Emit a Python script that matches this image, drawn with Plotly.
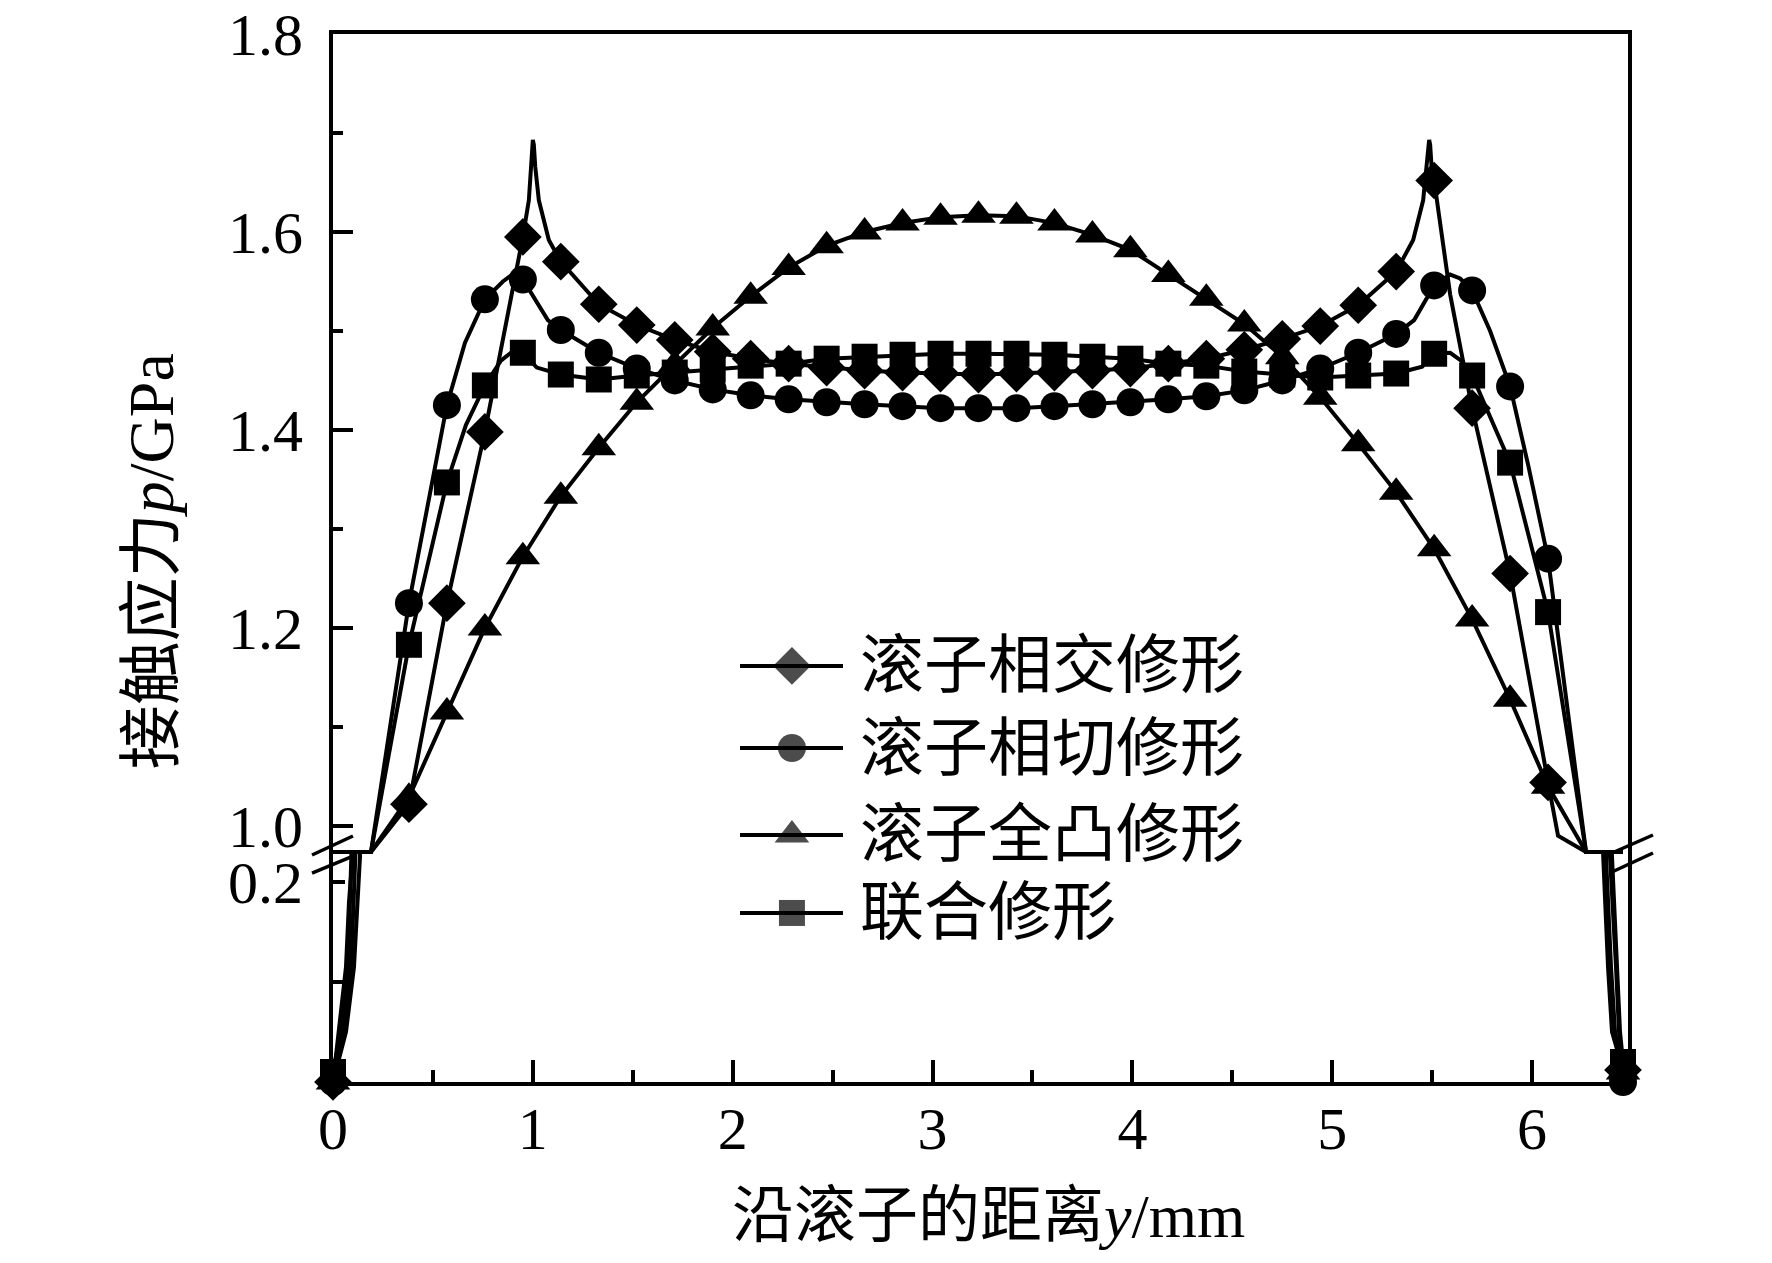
import numpy as np
import plotly.graph_objects as go

# marker positions along the roller (mm), shared by all four curves
GRID_X = [0.0, 0.19, 0.38, 0.57, 0.76, 0.95, 1.14, 1.33, 1.52, 1.71, 1.90,
          2.09, 2.28, 2.47, 2.66, 2.85, 3.04, 3.23, 3.42, 3.61, 3.80, 3.99,
          4.18, 4.37, 4.56, 4.75, 4.94, 5.13, 5.32, 5.51, 5.70, 5.89, 6.08,
          6.27, 6.455]

# contact pressure at the marker positions (GPa)
DIAMOND_Y = [0.0, 0.62, 1.022, 1.225, 1.398, 1.595, 1.570, 1.527, 1.506, 1.491,
             1.479, 1.472, 1.467, 1.463, 1.460, 1.458, 1.457, 1.456, 1.457, 1.458,
             1.460, 1.462, 1.467, 1.472, 1.481, 1.492, 1.505, 1.526, 1.560, 1.652,
             1.422, 1.255, 1.044, 0.62, 0.012]
CIRCLE_Y = [0.0, 0.88, 1.225, 1.425, 1.532, 1.552, 1.501, 1.478, 1.462, 1.450,
            1.441, 1.435, 1.431, 1.428, 1.426, 1.424, 1.422, 1.422, 1.422, 1.424,
            1.426, 1.428, 1.431, 1.434, 1.440, 1.450, 1.462, 1.478, 1.497, 1.546,
            1.541, 1.444, 1.270, 0.94, 0.0]
TRIANGLE_Y = [0.0, 0.942, 1.029, 1.115, 1.200, 1.272, 1.333, 1.382, 1.428, 1.466,
              1.503, 1.535, 1.564, 1.586, 1.600, 1.609, 1.615, 1.617, 1.616, 1.609,
              1.597, 1.582, 1.557, 1.533, 1.507, 1.474, 1.433, 1.386, 1.337, 1.280,
              1.209, 1.128, 1.040, 0.948, 0.01]
SQUARE_Y = [0.01, 0.875, 1.183, 1.347, 1.445, 1.478, 1.456, 1.451, 1.455, 1.458,
            1.461, 1.465, 1.467, 1.472, 1.474, 1.476, 1.477, 1.477, 1.477, 1.476,
            1.474, 1.472, 1.467, 1.465, 1.459, 1.456, 1.453, 1.455, 1.457, 1.477,
            1.455, 1.367, 1.216, 0.943, 0.02]

# extra curve points between markers (roller ends, peaks)
DIAMOND_EX_X = [0.05, 0.09, 0.11, 0.12, 0.98, 0.99, 0.995, 1.0, 1.005, 1.012, 1.03,
                1.08, 5.405, 5.455, 5.47, 5.48, 5.485, 5.49, 5.497, 5.59, 6.13,
                6.355, 6.38, 6.40]
DIAMOND_EX_Y = [0.05, 0.115, 0.18, 0.225, 1.632, 1.666, 1.688, 1.693, 1.688, 1.666,
                1.632, 1.592, 1.592, 1.632, 1.666, 1.688, 1.693, 1.688, 1.666, 1.537,
                0.99, 0.225, 0.115, 0.05]
CIRCLE_EX_X = [0.03, 0.065, 0.08, 0.09, 0.66, 0.85, 0.89, 1.005, 1.075, 5.41, 5.48,
               5.59, 5.64, 5.79, 5.98, 6.39, 6.42, 6.435]
CIRCLE_EX_Y = [0.05, 0.115, 0.18, 0.225, 1.488, 1.550, 1.556, 1.534, 1.511, 1.511,
               1.535, 1.557, 1.553, 1.50, 1.365, 0.225, 0.115, 0.05]
TRIANGLE_EX_X = [0.065, 0.105, 0.125, 0.135, 6.37, 6.395, 6.415]
TRIANGLE_EX_Y = [0.05, 0.115, 0.18, 0.225, 0.225, 0.115, 0.05]
SQUARE_EX_X = [0.04, 0.075, 0.09, 0.10, 0.665, 0.84, 0.89, 1.02, 5.45, 5.59, 5.645,
               6.40, 6.425, 6.44]
SQUARE_EX_Y = [0.05, 0.115, 0.18, 0.225, 1.405, 1.470, 1.478, 1.463, 1.464, 1.478,
               1.470, 0.225, 0.115, 0.05]

NAMES = ["滚子相交修形", "滚子相切修形", "滚子全凸修形", "联合修形"]
SYMBOLS = ["diamond", "circle", "triangle-up", "square"]
SIZES = [29, 28, 30, 26]

SERIES = list(zip(NAMES, SYMBOLS, SIZES,
                  [DIAMOND_Y, CIRCLE_Y, TRIANGLE_Y, SQUARE_Y],
                  [DIAMOND_EX_X, CIRCLE_EX_X, TRIANGLE_EX_X, SQUARE_EX_X],
                  [DIAMOND_EX_Y, CIRCLE_EX_Y, TRIANGLE_EX_Y, SQUARE_EX_Y]))

# broken y axis: upper part 0.97-1.8, lower part 0-0.228
UP_LO, UP_HI = 0.9717, 1.8
LO_HI = 0.228
SPLIT = 0.2176
CLAMP = 0.9737
X_MAX = 6.48

FONT = "Liberation Serif, Noto Sans CJK SC"
BLACK = "black"
LW = 4

fig = go.Figure()
gx = np.array(GRID_X)
for name, sym, size, ys, ex, ey in SERIES:
    gy = np.array(ys)
    lx = np.concatenate([gx, ex])
    ly = np.concatenate([gy, ey])
    order = np.argsort(lx, kind="stable")
    lx, ly = lx[order], ly[order]
    line = dict(color=BLACK, width=LW)
    mk = dict(symbol=sym, size=size, color=BLACK, line=dict(width=0))
    # upper panel: whatever falls in the gap is pinned to the break edge
    fig.add_trace(go.Scatter(x=lx, y=np.maximum(ly, CLAMP), mode="lines", line=line,
                             xaxis="x2", yaxis="y", hoverinfo="skip"))
    up = gy >= UP_LO
    fig.add_trace(go.Scatter(x=gx[up], y=gy[up], mode="markers", marker=mk,
                             xaxis="x2", yaxis="y", name=name))
    # lower panel
    fig.add_trace(go.Scatter(x=lx, y=ly, mode="lines", line=line,
                             xaxis="x", yaxis="y2", hoverinfo="skip"))
    lo = gy <= LO_HI
    fig.add_trace(go.Scatter(x=gx[lo], y=gy[lo], mode="markers", marker=mk,
                             xaxis="x", yaxis="y2", cliponaxis=False, name=name))

# hand-made legend (plotly caps legend marker size)
LEG_X = [0.3143, 0.3544, 0.3938]
LEG_TEXT_X = 0.4054
LEG_ROWS = [0.397, 0.3187, 0.2357, 0.1613]
for (name, sym, size, *_), ry in zip(SERIES, LEG_ROWS):
    fig.add_trace(go.Scatter(x=LEG_X, y=[ry] * 3, mode="lines+markers",
                             line=dict(color=BLACK, width=LW),
                             marker=dict(symbol=sym, size=[0, size, 0], color=BLACK,
                                         line=dict(width=0)),
                             xaxis="x3", yaxis="y3", cliponaxis=False, hoverinfo="skip"))
    fig.add_annotation(x=LEG_TEXT_X, y=ry, xref="x3", yref="y3", text=name,
                       xanchor="left", yanchor="middle", showarrow=False,
                       font=dict(family=FONT, size=64, color=BLACK))

# axis titles
fig.add_annotation(x=0.506, y=-0.128, xref="paper", yref="paper",
                   text="沿滚子的距离<i>y</i>/mm", showarrow=False,
                   xanchor="center", yanchor="middle",
                   font=dict(family=FONT, size=62, color=BLACK))
fig.add_annotation(x=-0.1405, y=0.497, xref="paper", yref="paper",
                   text="接触应力<i>p</i>/GPa", showarrow=False, textangle=-90,
                   xanchor="center", yanchor="middle",
                   font=dict(family=FONT, size=64, color=BLACK))

# break marks on both vertical axes
for x0, x1, ya, yb in [(-0.0162, 0.0154, 0.2166, 0.2347), (-0.0162, 0.0154, 0.1994, 0.2156),
                       (0.9876, 1.0193, 0.2185, 0.2357), (0.9876, 1.0193, 0.2004, 0.2185)]:
    fig.add_shape(type="line", xref="paper", yref="paper", x0=x0, x1=x1, y0=ya, y1=yb,
                  line=dict(color=BLACK, width=3.5))

axis_common = dict(showgrid=False, zeroline=False, showline=True, linewidth=4,
                   linecolor=BLACK, tickcolor=BLACK, tickwidth=3.5,
                   ticklabeloverflow="allow", automargin=False,
                   tickfont=dict(family=FONT, size=60, color=BLACK))

# the page body adds an 8px margin, so the figure is 16px smaller than the window
fig.update_layout(
    width=1756, height=1247,
    margin=dict(l=325, r=136, t=26, b=173, autoexpand=False),
    paper_bgcolor="white", plot_bgcolor="rgba(0,0,0,0)",
    showlegend=False,
    font=dict(family=FONT, size=60, color=BLACK),
    xaxis=dict(domain=[0, 1], range=[0, X_MAX], anchor="y2",
               tickvals=[0, 1, 2, 3, 4, 5, 6], ticks="inside", ticklen=22,
               ticklabelstandoff=-9,
               minor=dict(tickvals=[0.5, 1.5, 2.5, 3.5, 4.5, 5.5], ticks="inside",
                          ticklen=12, tickwidth=3.5, tickcolor=BLACK),
               **axis_common),
    xaxis2=dict(domain=[0, 1], range=[0, X_MAX], anchor="y", side="top",
                showticklabels=False, ticks="", **axis_common),
    yaxis=dict(domain=[SPLIT, 1], range=[UP_LO, UP_HI], anchor="x2",
               tickvals=[1.0, 1.2, 1.4, 1.6, 1.8],
               ticktext=["1.0", "1.2", "1.4", "1.6", "1.8"],
               ticks="inside", ticklen=20, mirror=True, ticklabelstandoff=14,
               minor=dict(tickvals=[1.1, 1.3, 1.5, 1.7], ticks="inside",
                          ticklen=10, tickwidth=3.5, tickcolor=BLACK),
               **axis_common),
    yaxis2=dict(domain=[0, SPLIT], range=[0, LO_HI], anchor="x",
                tickvals=[0.1, 0.2], ticktext=["", "0.2"], ticks="inside",
                ticklen=12, mirror=True, ticklabelstandoff=14, **axis_common),
    xaxis3=dict(domain=[0, 1], range=[0, 1], anchor="y3", visible=False, fixedrange=True),
    yaxis3=dict(domain=[0, 1], range=[0, 1], anchor="x3", visible=False, fixedrange=True),
)

fig.write_html("out.html")
